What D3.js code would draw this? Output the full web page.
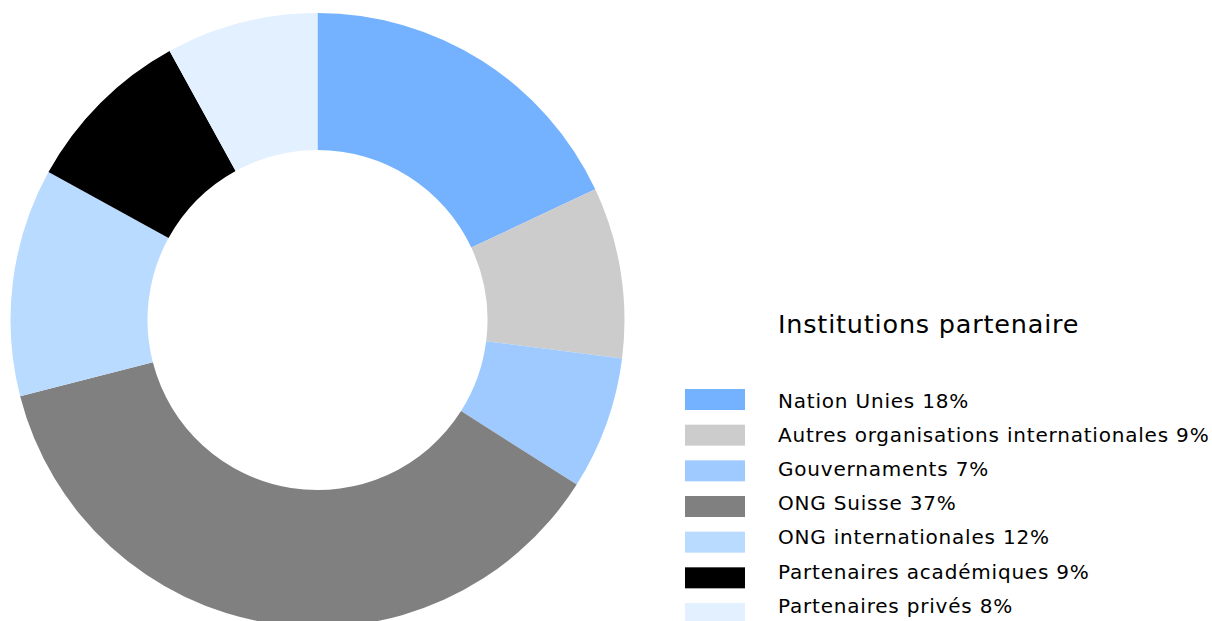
<!DOCTYPE html>
<html>
<head>
<meta charset="utf-8">
<script src="https://cdn.jsdelivr.net/npm/d3@7"></script>
<style>
  html, body { margin: 0; padding: 0; background: #fff; }
  svg { display: block; font-family: "DejaVu Sans", Verdana, sans-serif; }
</style>
</head>
<body>
<div id="chart"></div>
<script>
'use strict'

// data
const categories = [
    "Nation Unies",
    "Autres organisations internationales",
    "Gouvernaments",
    "ONG Suisse",
    "ONG internationales",
    "Partenaires académiques",
    "Partenaires privés"
]
const shares = [18, 9, 7, 37, 12, 9, 8]
const colors = ["#74b2ff", "#cccccc", "#9ecaff", "#808080", "#b9dbff", "#000000", "#e2f0ff"]
const legendTitle = "Institutions partenaire"

const data = categories.map((c, i) => ({ name: c, value: shares[i], color: colors[i] }))

////////////////////////////////////
//////////// svg setup /////////////
////////////////////////////////////
const svgWidth = 1212
const svgHeight = 621

const svg = d3.select('#chart')
    .append('svg')
    .attr('width', svgWidth)
    .attr('height', svgHeight)

////////////////////////////////////
//////////// donut /////////////////
////////////////////////////////////
const center = { x: 317.5, y: 320 }
const outerR = 307
const innerR = 170

const pie = d3.pie()
    .sort(null)
    .value(d => d.value)

const arc = d3.arc()
    .innerRadius(innerR)
    .outerRadius(outerR)

const donut = svg.append('g')
    .attr('transform', `translate(${center.x},${center.y})`)

donut.selectAll('path')
    .data(pie(data))
    .join('path')
    .attr('d', arc)
    .attr('fill', d => d.data.color)

////////////////////////////////////
//////////// legend ////////////////
////////////////////////////////////
const legendX = 685
const textX = 778

// swatches and labels drift slightly apart in the original
const swatchY = d3.scaleLinear().domain([0, 6]).range([389, 603])
const labelY = d3.scaleLinear().domain([0, 6]).range([407.7, 612.7])

const legend = svg.append('g')

// verdana-ish width: dejavu is a bit narrower, so add some spacing
legend.append('text')
    .attr('x', textX)
    .attr('y', 333)
    .attr('font-size', '25.5px')
    .attr('letter-spacing', '0.8px')
    .attr('fill', '#000')
    .text(legendTitle)

const rows = legend.selectAll('g.row')
    .data(data)
    .join('g')
    .attr('class', 'row')

rows.append('rect')
    .attr('x', legendX)
    .attr('y', (d, i) => swatchY(i))
    .attr('width', 60)
    .attr('height', 21)
    .attr('fill', d => d.color)

rows.append('text')
    .attr('x', textX)
    .attr('y', (d, i) => labelY(i))
    .attr('font-size', '20px')
    .attr('letter-spacing', '0.8px')
    .attr('fill', '#000')
    .text(d => `${d.name} ${d.value}%`)
</script>
</body>
</html>
